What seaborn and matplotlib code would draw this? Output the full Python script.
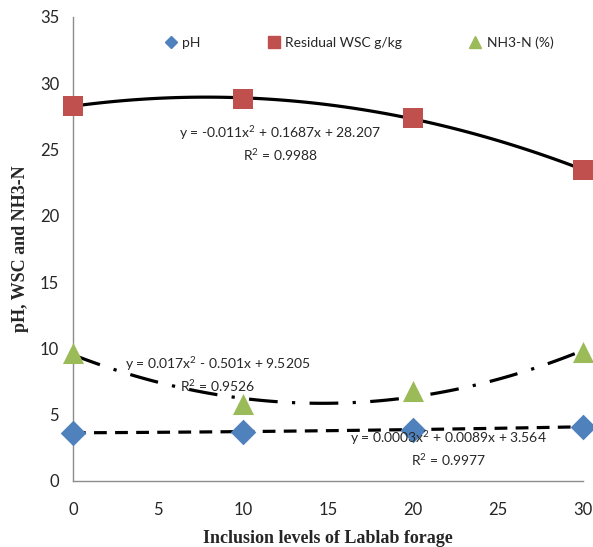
import numpy as np
import pandas as pd
import matplotlib
matplotlib.use('Agg')
import matplotlib.pyplot as plt
import seaborn as sns
from matplotlib.lines import Line2D

# --- chart data ---
levels = [0, 10, 20, 30]
ph = [3.62, 3.72, 3.86, 4.08]
wsc = [28.3, 28.8, 27.4, 23.45]
nh3n = [9.65, 5.8, 6.75, 9.7]

series_names = ['pH', 'Residual WSC g/kg', 'NH3-N (%)']
eq_texts = [
    'y = 0.0003x$^2$ + 0.0089x + 3.564\nR$^2$ = 0.9977',
    'y = -0.011x$^2$ + 0.1687x + 28.207\nR$^2$ = 0.9988',
    'y = 0.017x$^2$ - 0.501x + 9.5205\nR$^2$ = 0.9526',
]

df = pd.DataFrame({'level': levels, 'pH': ph, 'WSC': wsc, 'NH3N': nh3n})

sns.set_style('white')
plt.rcParams['font.family'] = ['Lato', 'DejaVu Sans']
plt.rcParams['mathtext.fontset'] = 'custom'
plt.rcParams['mathtext.rm'] = 'Lato'

fig = plt.figure(figsize=(5.93, 5.47), dpi=100)
ax = fig.add_axes([0.123, 0.121, 0.860, 0.848])

blue = '#4F81BD'
red = '#C0504D'
green = '#9BBB59'

# pH - dashed trend
sns.regplot(data=df, x='level', y='pH', order=2, ci=None, ax=ax, marker='D',
            scatter_kws={'s': 170, 'color': blue, 'alpha': 1, 'zorder': 3,
                         'linewidths': 0, 'clip_on': False},
            line_kws={'color': 'black', 'lw': 2.3, 'linestyle': (0, (4, 2.6)), 'zorder': 2})
# WSC - solid trend
sns.regplot(data=df, x='level', y='WSC', order=2, ci=None, ax=ax, marker='s',
            scatter_kws={'s': 190, 'color': red, 'alpha': 1, 'zorder': 3,
                         'linewidths': 0, 'clip_on': False},
            line_kws={'color': 'black', 'lw': 2.3, 'linestyle': '-', 'zorder': 2})
# NH3-N - dash dot trend
sns.regplot(data=df, x='level', y='NH3N', order=2, ci=None, ax=ax, marker='^',
            scatter_kws={'s': 230, 'color': green, 'alpha': 1, 'zorder': 3,
                         'linewidths': 0, 'clip_on': False},
            line_kws={'color': 'black', 'lw': 2.3, 'linestyle': (0, (9, 4.5, 1, 4.5)), 'zorder': 2})

ax.set_xlim(0, 30)
ax.set_ylim(0, 35)
ax.set_xticks(np.arange(0, 31, 5))
ax.set_yticks(np.arange(0, 36, 5))
ax.tick_params(axis='x', length=0, labelsize=12, pad=15)
ax.tick_params(axis='y', length=0, labelsize=12, pad=10)

for side in ['top', 'right']:
    ax.spines[side].set_visible(False)
for side in ['left', 'bottom']:
    ax.spines[side].set_color('#8c8c8c')
    ax.spines[side].set_linewidth(1.0)

ax.set_xlabel('Inclusion levels of Lablab forage', fontfamily='Liberation Serif',
              fontweight='bold', fontsize=13, labelpad=9)
ax.set_ylabel('pH, WSC and NH3-N', fontfamily='Liberation Serif',
              fontweight='bold', fontsize=13, labelpad=8)

# trendline equations
ax.text(22.1, 2.45, eq_texts[0], ha='center', va='center', fontsize=10, linespacing=1.3)
ax.text(12.2, 25.5, eq_texts[1], ha='center', va='center', fontsize=10, linespacing=1.3)
ax.text(8.5, 8.05, eq_texts[2], ha='center', va='center', fontsize=10, linespacing=1.3)

handles = [
    Line2D([], [], marker='D', color=blue, linestyle='none', markersize=6),
    Line2D([], [], marker='s', color=red, linestyle='none', markersize=9),
    Line2D([], [], marker='^', color=green, linestyle='none', markersize=8),
]
ax.legend(handles, series_names, loc='upper center', bbox_to_anchor=(0.56, 0.985),
          ncol=3, frameon=False, fontsize=10, handletextpad=0.3,
          columnspacing=4.8, handlelength=1.0)

fig.savefig('out.png', dpi=100)
